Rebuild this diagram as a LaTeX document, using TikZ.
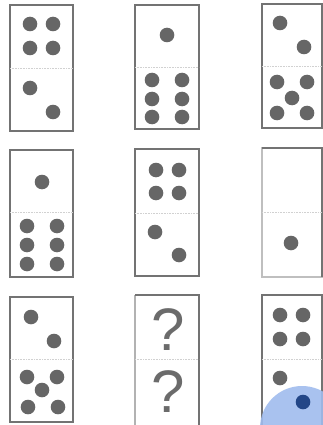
\documentclass[tikz,border=0pt]{standalone}
\usepackage{fontspec}
\setmainfont{Liberation Sans}
\definecolor{blob}{RGB}{160,188,238}
\definecolor{navy}{RGB}{35,70,135}
\begin{document}
\begin{tikzpicture}[x=1pt,y=-1pt,
  dom/.style={draw=black!55,line width=1.2pt},
  divl/.style={draw=black!18,line width=0.6pt,densely dotted},
  pip/.style={fill=black!60,draw=none},
  qm/.style={text=black!58,font=\fontsize{60}{60}\selectfont,inner sep=0pt}]
\useasboundingbox (0,0) rectangle (323,425);
\fill[white] (0,0) rectangle (323,425);
\def\r{7.3}
% Row 1
\draw[dom] (10,5) rectangle (73,131); \draw[divl] (10,68) -- (73,68);
\foreach \p in {(30,24),(53,24),(30,48),(53,48),(30,88),(53,112)} \fill[pip] \p circle (\r);
\draw[dom] (135,5) rectangle (199,129); \draw[divl] (135,67) -- (199,67);
\foreach \p in {(167,35),(152,80),(182,80),(152,99),(182,99),(152,117),(182,117)} \fill[pip] \p circle (\r);
\draw[dom] (262,4) rectangle (322,128); \draw[divl] (262,66) -- (322,66);
\foreach \p in {(280,23),(304,47),(277,82),(307,82),(292,98),(277,113),(307,113)} \fill[pip] \p circle (\r);
% Row 2
\draw[dom] (10,150) rectangle (73,277); \draw[divl] (10,212) -- (73,212);
\foreach \p in {(42,182),(27,226),(57,226),(27,245),(57,245),(27,264),(57,264)} \fill[pip] \p circle (\r);
\draw[dom] (135,149) rectangle (199,276); \draw[divl] (135,213) -- (199,213);
\foreach \p in {(156,170),(179,170),(156,193),(179,193),(155,232),(179,255)} \fill[pip] \p circle (\r);
\draw[dom,draw=black!25] (262,148) rectangle (322,277);
\draw[dom] (262,148) -- (322,148) -- (322,277);
\draw[divl] (262,212) -- (322,212);
\fill[pip] (291,243) circle (\r);
% Row 3
\draw[dom] (10,297) rectangle (73,422); \draw[divl] (10,359) -- (73,359);
\foreach \p in {(31,317),(54,341),(27,377),(57,377),(42,390),(28,407),(58,407)} \fill[pip] \p circle (\r);
\draw[dom,draw=black!30] (135,425) -- (135,295);
\draw[dom] (135,295) -- (199,295) -- (199,425);
\draw[divl] (135,359) -- (199,359);
\node[qm,anchor=base] (q1) at (168,350) {?};
\node[qm,anchor=base] (q2) at (168,412) {?};
\draw[dom] (262,425) -- (262,295) -- (322,295) -- (322,425);
\draw[divl] (262,359) -- (322,359);
\foreach \p in {(280,315),(303,315),(280,339),(303,339),(280,378)} \fill[pip] \p circle (\r);
\fill[blob,opacity=0.9] (302,428) circle (42);
\fill[navy] (303,402) circle (\r);
\end{tikzpicture}
\end{document}
